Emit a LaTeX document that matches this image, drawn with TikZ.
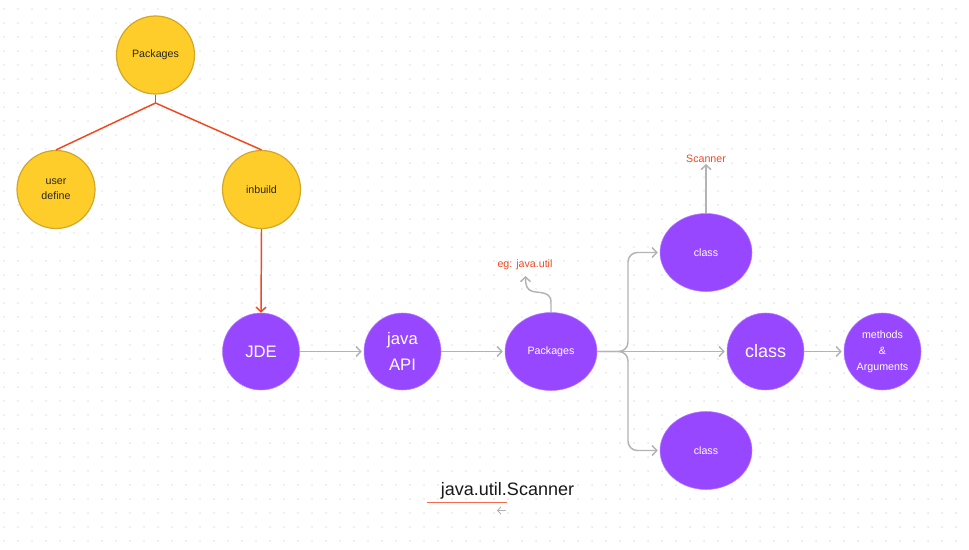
\documentclass[tikz,border=0pt]{standalone}
\usepackage{fontspec}
\setmainfont{Liberation Sans}
\usetikzlibrary{arrows.meta,shapes.geometric}
\definecolor{ylw}{HTML}{FFCD29}
\definecolor{ylwb}{HTML}{D1A72A}
\definecolor{prp}{HTML}{9747FF}
\definecolor{rd}{HTML}{F24822}
\definecolor{gry}{HTML}{B3B3B3}
\definecolor{dotc}{HTML}{C2C2C2}
\tikzset{
  ycirc/.style={circle, fill=ylw, draw=ylwb, line width=0.9pt, minimum size=78*0.75pt, inner sep=0pt, text=black!85, font=\fontsize{8}{11.5}\selectfont, align=center},
  pcirc/.style={circle, fill=prp, draw=prp!70!white, line width=0.4pt, minimum size=77*0.75pt, inner sep=0pt, text=white, align=center},
  pell/.style={ellipse, fill=prp, draw=prp!70!white, line width=0.4pt, minimum width=92*0.75pt, minimum height=78*0.75pt, inner sep=0pt, text=white, align=center, font=\fontsize{8}{9}\selectfont},
  redline/.style={draw=rd, line width=1.1pt},
  grayarr/.style={draw=gry, line width=1.1pt, -{Straight Barb[length=3.5pt,width=7.5pt,line width=1.1pt]}},
  redarr/.style={draw=rd, line width=1.1pt, -{Straight Barb[length=3.5pt,width=7.5pt,line width=1.1pt]}},
  lbl/.style={text=rd, font=\fontsize{8}{9}\selectfont, inner sep=0pt}
}
\begin{document}
\begin{tikzpicture}[x=0.75pt,y=-0.75pt]
\useasboundingbox (0,0) rectangle (969,549);
\fill[white] (0,0) rectangle (969,549);
\foreach \i in {0,...,69} {\foreach \j in {0,...,38} {\fill[dotc] (4+14*\i,9+14*\j) circle (0.55pt);}}
% yellow tree
\node[ycirc] (pkg) at (155.5,55) {Packages};
\node[ycirc] (ud) at (56,189.5) {user\\define};
\node[ycirc] (inb) at (261.5,189.5) {inbuild};
\coordinate (fork) at (155.5,103);
\draw[redline] (pkg.south) -- (fork);
\draw[redline] (fork) -- (ud.north);
\draw[redline] (fork) -- (inb.north);
% purple row
\node[pcirc, font=\fontsize{12.5}{14}\selectfont] (jde) at (261,351.5) {JDE};
\node[pcirc, font=\fontsize{12.5}{20}\selectfont] (api) at (402.5,351.5) {java\\API};
\node[pell] (pk2) at (551,351.5) {Packages};
\node[pell] (ctop) at (706,252.5) {class};
\node[pcirc, font=\fontsize{13.5}{15}\selectfont] (cmid) at (765.5,351.5) {class};
\node[pell] (cbot) at (706,450.5) {class};
\node[pcirc, font=\fontsize{8}{12}\selectfont] (meth) at (882.5,351.5) {methods\\\&\\Arguments};
\draw[redarr] (inb.south) -- (jde.north);
\draw[grayarr] (jde.east) -- ([xshift=-1.5pt]api.west);
\draw[grayarr] (api.east) -- ([xshift=-1.5pt]pk2.west);
\draw[grayarr] (pk2.east) -- ([xshift=-1.5pt]cmid.west);
\draw[grayarr] (cmid.east) -- ([xshift=-1.5pt]meth.west);
\draw[grayarr, rounded corners=7pt] (pk2.east) -- (628,351.5) -- (628,252.5) -- ([xshift=-1.5pt]ctop.west);
\draw[grayarr, rounded corners=7pt] (pk2.east) -- (628,351.5) -- (628,450.5) -- ([xshift=-1.5pt]cbot.west);
% labels
\node[lbl] (eg) at (525,265) {eg: java.util};
\node[lbl] (scan) at (706,159) {Scanner};
\draw[grayarr] (pk2.north) -- (551,302) .. controls (551,292) and (541,293) .. (533,291.5) .. controls (527,290) and (525.5,286) .. (525.5,276);
\draw[grayarr] (ctop.north) -- (706,164);
% bottom text
\node[inner sep=0pt, font=\fontsize{13.5}{15}\selectfont, text=black!90] (jus) at (507.5,491) {java.util.Scanner};
\coordinate (ul1) at (427,502.7);
\coordinate (ul2) at (507,502.7);
\draw[draw=rd!80!white, line width=1.1pt] (ul1) -- (ul2);
\coordinate (sa1) at (505.5,510.5);
\coordinate (sa2) at (497,510.5);
\draw[draw=gry, line width=0.7pt, -{Straight Barb[length=2.5pt,width=5.5pt,line width=0.7pt]}] (sa1) -- (sa2);
\end{tikzpicture}
\end{document}
